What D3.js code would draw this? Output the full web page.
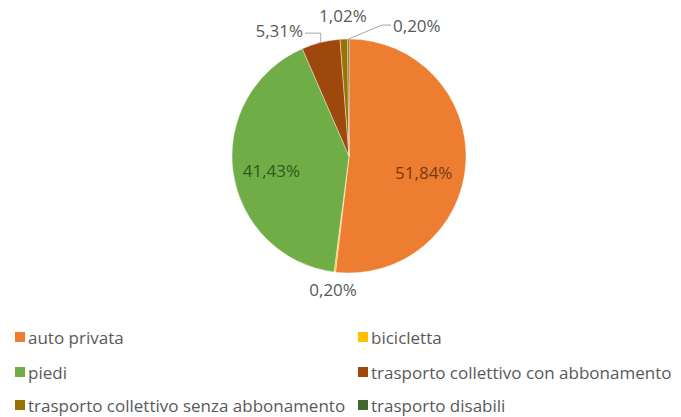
<!DOCTYPE html>
<html>
<head>
<meta charset="utf-8">
<script src="https://cdn.jsdelivr.net/npm/d3@7"></script>
<style>
  html, body { margin: 0; padding: 0; background: #fff; }
  svg { display: block; font-family: "Open Sans", "Noto Sans", sans-serif; }
</style>
</head>
<body>
<svg id="chart" width="681" height="417"></svg>
<script>
// Modal split of trips (percent shares)
const categories = [
  "auto privata",
  "bicicletta",
  "piedi",
  "trasporto collettivo con abbonamento",
  "trasporto collettivo senza abbonamento",
  "trasporto disabili"
];
const values = [51.84, 0.20, 41.43, 5.31, 1.02, 0.20];
const valueLabels = ["51,84%", "0,20%", "41,43%", "5,31%", "1,02%", "0,20%"];
const colors = ["#ED7D31", "#FFC000", "#70AD47", "#9E480E", "#997300", "#43682B"];

// Label placement per slice: inside labels sit on a scaled centroid,
// outside labels get a polar position (degrees clockwise from 12 o'clock, radius factor)
const labelLayout = [
  { inside: true, r: 0.64, dy: 12, fill: "#7A3A10" },
  { inside: false, angle: 186.8, r: 1.15 },
  { inside: true, r: 0.67, dy: 3, fill: "#2F5A1C" },
  { inside: false, angle: 331, r: 1.23, leader: "elbow" },
  { inside: false, angle: 357.5, r: 1.2 },
  { inside: false, angle: 27.4, r: 1.26, leader: "straight" }
];

const svg = d3.select("#chart");
const cx = 349, cy = 156, R = 117;

const pie = d3.pie().sort(null).value(d => d)(values);
const arc = d3.arc().innerRadius(0).outerRadius(R);

const g = svg.append("g").attr("transform", `translate(${cx},${cy})`);

g.selectAll("path.slice")
  .data(pie)
  .join("path")
  .attr("class", "slice")
  .attr("d", arc)
  .attr("fill", (d, i) => colors[i])
  .attr("stroke", "#fff")
  .attr("stroke-width", 0.4);

const polar = (deg, r) => {
  const a = deg * Math.PI / 180;
  return [Math.sin(a) * r, -Math.cos(a) * r];
};

pie.forEach((d, i) => {
  const L = labelLayout[i];
  const mid = (d.startAngle + d.endAngle) / 2;
  const edge = [Math.sin(mid) * R, -Math.cos(mid) * R];
  let pos;
  if (L.inside) {
    pos = [Math.sin(mid) * R * L.r, -Math.cos(mid) * R * L.r + (L.dy || 0)];
  } else {
    pos = polar(L.angle, R * L.r);
  }
  const t = g.append("text")
    .attr("x", pos[0]).attr("y", pos[1])
    .attr("text-anchor", "middle")
    .attr("dominant-baseline", "central")
    .attr("font-size", 17)
    .attr("fill", L.fill || "#595959")
    .text(valueLabels[i]);

  if (L.leader) {
    const w = t.node().getComputedTextLength();
    const ly = pos[1] + 3;
    let pts;
    if (L.leader === "elbow") {
      const right = pos[0] + w / 2 + 2;
      pts = [edge, [edge[0], ly], [right, ly]];
    } else {
      const left = pos[0] - w / 2 - 2;
      pts = [edge, [left - 9, pos[1]], [left, pos[1]]];
    }
    g.insert("path", "text")
      .attr("d", d3.line()(pts))
      .attr("fill", "none")
      .attr("stroke", "#A6A6A6")
      .attr("stroke-width", 1);
  }
});

// Legend, two columns
const legendX = [15, 358];
const legendY = [337, 372, 405];
const legend = svg.append("g");
categories.forEach((c, i) => {
  const x = legendX[i % 2], y = legendY[Math.floor(i / 2)];
  legend.append("rect")
    .attr("x", x).attr("y", y - 5)
    .attr("width", 10).attr("height", 10)
    .attr("fill", colors[i]);
  legend.append("text")
    .attr("x", x + 13).attr("y", y)
    .attr("dominant-baseline", "central")
    .attr("font-size", 17)
    .attr("fill", "#595959")
    .text(c);
});
</script>
</body>
</html>
